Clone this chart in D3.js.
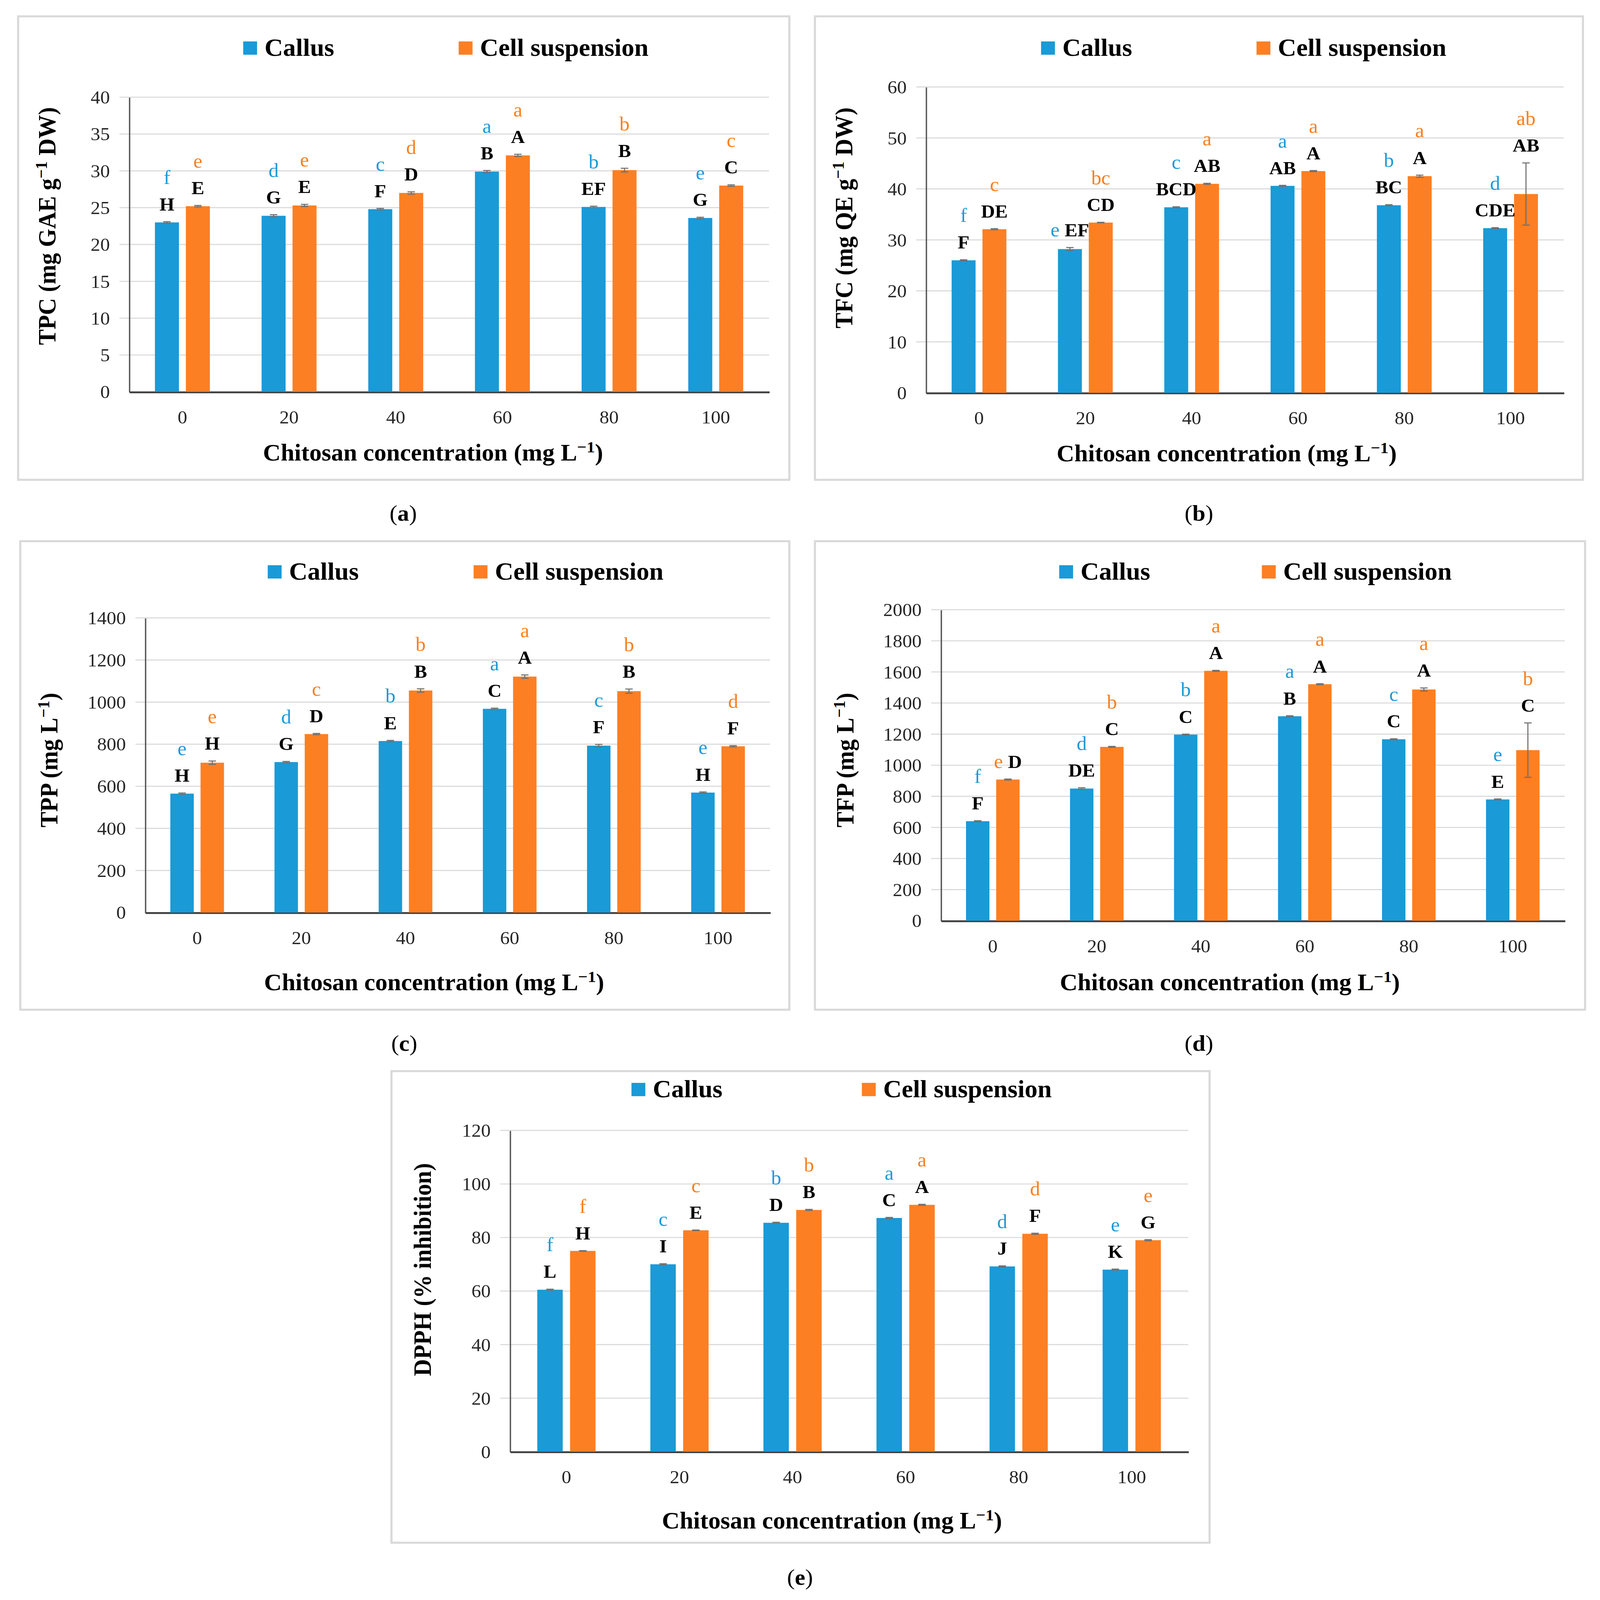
<!DOCTYPE html>
<html>
<head>
<meta charset="utf-8">
<script src="https://cdn.jsdelivr.net/npm/d3@7"></script>
<style>
  html, body { margin: 0; padding: 0; background: #fff; overflow: hidden; }
  svg { display: block; width: 100vw; height: 100vh; }
  text { font-family: "Liberation Serif", "DejaVu Serif", serif; }
</style>
</head>
<body>
<script>
// chitosan treatments, shared by every panel
const concentrations = [0, 20, 40, 60, 80, 100];
const seriesNames = ["Callus", "Cell suspension"];

// (a) TPC
const tpcCallus = [23.0, 23.9, 24.8, 29.9, 25.1, 23.6];
const tpcCell = [25.2, 25.3, 27.0, 32.1, 30.1, 28.0];
const tpcCallusErr = [0.1, 0.15, 0.1, 0.15, 0.1, 0.1];
const tpcCellErr = [0.1, 0.15, 0.15, 0.15, 0.25, 0.1];
const tpcCallusCap = ["H", "G", "F", "B", "EF", "G"];
const tpcCallusLow = ["f", "d", "c", "a", "b", "e"];
const tpcCellCap = ["E", "E", "D", "A", "B", "C"];
const tpcCellLow = ["e", "e", "d", "a", "b", "c"];
const tpcTicks = [0, 5, 10, 15, 20, 25, 30, 35, 40];

// (b) TFC
const tfcCallus = [26.0, 28.2, 36.4, 40.6, 36.8, 32.3];
const tfcCell = [32.1, 33.4, 41.0, 43.5, 42.5, 39.0];
const tfcCallusErr = [0.1, 0.3, 0.1, 0.1, 0.1, 0.1];
const tfcCellErr = [0.1, 0.05, 0.1, 0.1, 0.2, 6.1];
const tfcCallusCap = ["F", "EF", "BCD", "AB", "BC", "CDE"];
const tfcCallusLow = ["f", "e", "c", "a", "b", "d"];
const tfcCellCap = ["DE", "CD", "AB", "A", "A", "AB"];
const tfcCellLow = ["c", "bc", "a", "a", "a", "ab"];
const tfcTicks = [0, 10, 20, 30, 40, 50, 60];

// (c) TPP
const tppCallus = [565, 715, 815, 968, 793, 570];
const tppCell = [712, 848, 1055, 1121, 1052, 790];
const tppCallusErr = [3, 3, 3, 3, 6, 3];
const tppCellErr = [8, 3, 8, 8, 10, 3];
const tppCallusCap = ["H", "G", "E", "C", "F", "H"];
const tppCallusLow = ["e", "d", "b", "a", "c", "e"];
const tppCellCap = ["H", "D", "B", "A", "B", "F"];
const tppCellLow = ["e", "c", "b", "a", "b", "d"];
const tppTicks = [0, 200, 400, 600, 800, 1000, 1200, 1400];

// (d) TFP
const tfpCallus = [640, 850, 1197, 1315, 1167, 780];
const tfpCell = [908, 1118, 1607, 1521, 1487, 1097];
const tfpCallusErr = [3, 5, 3, 3, 3, 3];
const tfpCellErr = [3, 3, 3, 3, 10, 175];
const tfpCallusCap = ["F", "DE", "C", "B", "C", "E"];
const tfpCallusLow = ["f", "d", "b", "a", "c", "e"];
const tfpCellCap = ["D", "C", "A", "A", "A", "C"];
const tfpCellLow = ["e", "b", "a", "a", "a", "b"];
const tfpTicks = [0, 200, 400, 600, 800, 1000, 1200, 1400, 1600, 1800, 2000];

// (e) DPPH
const dpphCallus = [60.5, 70.0, 85.5, 87.3, 69.2, 68.0];
const dpphCell = [75.0, 82.7, 90.3, 92.2, 81.4, 79.0];
const dpphCallusErr = [0.2, 0.2, 0.2, 0.2, 0.2, 0.2];
const dpphCellErr = [0.1, 0.1, 0.2, 0.2, 0.2, 0.2];
const dpphCallusCap = ["L", "I", "D", "C", "J", "K"];
const dpphCallusLow = ["f", "c", "b", "a", "d", "e"];
const dpphCellCap = ["H", "E", "B", "A", "F", "G"];
const dpphCellLow = ["f", "c", "b", "a", "d", "e"];
const dpphTicks = [0, 20, 40, 60, 80, 100, 120];

const blue = "#1a9ad6";
const orange = "#fd7f23";
const blueText = "#1d9ad8";
const orangeText = "#f9801f";

// page drawn in a 1500-wide coordinate space, stretched to the window
let svg = d3.select("body").append("svg")
  .attr("viewBox", "0 0 1500 1564")
  .attr("preserveAspectRatio", "none");

function titleWithSup(sel, before, after) {
  sel.append("tspan").text(before);
  sel.append("tspan").attr("dy", -8).attr("font-size", "0.68em").text("\u22121");
  sel.append("tspan").attr("dy", 8).text(after);
}

function drawPanel(p) {
  let g = svg.append("g");

  // chart frame
  g.append("rect")
    .attr("x", p.frame[0]).attr("y", p.frame[1])
    .attr("width", p.frame[2] - p.frame[0]).attr("height", p.frame[3] - p.frame[1])
    .attr("fill", "#fff").attr("stroke", "#d9d9d9").attr("stroke-width", 2);

  let x = d3.scaleBand().domain(concentrations).range([p.x0, p.x1]);
  let bw = x.bandwidth();
  let xs = d3.scaleBand().domain(seriesNames).range([0, bw])
    .paddingInner(0.224).paddingOuter(0.836);
  let y = d3.scaleLinear().domain([0, d3.max(p.ticks)]).range([p.y1, p.y0]);

  // gridlines (they stick out left of the axis like Excel tick marks)
  g.append("g").selectAll("line").data(p.ticks.slice(1)).join("line")
    .attr("x1", p.x0 - 9).attr("x2", p.x1)
    .attr("y1", d => y(d)).attr("y2", d => y(d))
    .attr("stroke", "#d9d9d9").attr("stroke-width", 1);

  // y axis
  let ya = g.append("g").attr("transform", "translate(" + p.x0 + ",0)")
    .call(d3.axisLeft(y).tickValues(p.ticks).tickFormat(d3.format("d")).tickSize(0).tickPadding(18));
  ya.select(".domain").attr("stroke", "#595959").attr("stroke-width", 1.3);
  ya.selectAll("text").attr("font-size", 18).attr("fill", "#262626")
    .attr("font-family", "Liberation Serif");

  // x axis
  let xa = g.append("g").attr("transform", "translate(0," + p.y1 + ")")
    .call(d3.axisBottom(x).tickSize(0).tickPadding(18));
  xa.select(".domain").attr("stroke", "#404040").attr("stroke-width", 1.8);
  xa.selectAll("text").attr("font-size", 18).attr("fill", "#262626")
    .attr("font-family", "Liberation Serif");

  let rows = concentrations.map((c, i) => [
    {c: c, s: seriesNames[0], v: p.callus[i], e: p.callusErr[i], cap: p.callusCap[i], low: p.callusLow[i], side: p.side[0] === i},
    {c: c, s: seriesNames[1], v: p.cell[i], e: p.cellErr[i], cap: p.cellCap[i], low: p.cellLow[i], side: p.side[1] === i}
  ]).flat();

  let cx = d => x(d.c) + xs(d.s) + xs.bandwidth() / 2;

  g.append("g").selectAll("rect").data(rows).join("rect")
    .attr("x", d => x(d.c) + xs(d.s))
    .attr("y", d => y(d.v))
    .attr("width", xs.bandwidth())
    .attr("height", d => y(0) - y(d.v))
    .attr("fill", d => d.s === seriesNames[0] ? blue : orange);

  // error bars
  let eb = g.append("g").attr("stroke", "#6f6f6f").attr("stroke-width", 1);
  eb.selectAll(".v").data(rows).join("line")
    .attr("x1", cx).attr("x2", cx)
    .attr("y1", d => y(d.v - d.e)).attr("y2", d => y(d.v + d.e));
  eb.selectAll(".t").data(rows).join("line")
    .attr("x1", d => cx(d) - 3.5).attr("x2", d => cx(d) + 3.5)
    .attr("y1", d => y(d.v + d.e)).attr("y2", d => y(d.v + d.e));
  eb.selectAll(".b").data(rows).join("line")
    .attr("x1", d => cx(d) - 3.5).attr("x2", d => cx(d) + 3.5)
    .attr("y1", d => y(d.v - d.e)).attr("y2", d => y(d.v - d.e));

  // significance letters
  rows.forEach(d => {
    let base = y(d.v + d.e) - 11;
    let col = d.s === seriesNames[0] ? blueText : orangeText;
    if (d.side) {
      let t = g.append("text").attr("x", cx(d)).attr("y", base)
        .attr("text-anchor", "middle").attr("font-size", 18);
      t.append("tspan").attr("fill", col).attr("font-size", 19).text(d.low + " ");
      t.append("tspan").attr("font-weight", "bold").attr("fill", "#000").text(d.cap);
    } else {
      g.append("text").attr("x", cx(d)).attr("y", base)
        .attr("text-anchor", "middle").attr("font-size", 18)
        .attr("font-weight", "bold").attr("fill", "#000").text(d.cap);
      g.append("text").attr("x", cx(d)).attr("y", base - 26)
        .attr("text-anchor", "middle").attr("font-size", 19)
        .attr("fill", col).text(d.low);
    }
  });

  // legend
  [[p.legX[0], blue, seriesNames[0]], [p.legX[1], orange, seriesNames[1]]].forEach(l => {
    g.append("rect").attr("x", l[0]).attr("y", p.legY - 6.5)
      .attr("width", 13).attr("height", 13).attr("fill", l[1]);
    g.append("text").attr("x", l[0] + 20).attr("y", p.legY + 7.5)
      .attr("font-size", 24).attr("font-weight", "bold").attr("fill", "#000").text(l[2]);
  });

  // axis titles
  let yt = g.append("text")
    .attr("transform", "translate(" + (p.yTitle[0] + 7) + "," + p.yTitle[1] + ") rotate(-90)")
    .attr("text-anchor", "middle").attr("font-size", 23).attr("font-weight", "bold");
  if (p.yLabel.length > 1) titleWithSup(yt, p.yLabel[0], p.yLabel[1]);
  else yt.text(p.yLabel[0]);

  let xt = g.append("text").attr("x", p.xTitle[0]).attr("y", p.xTitle[1] + 7)
    .attr("text-anchor", "middle").attr("font-size", 23).attr("font-weight", "bold");
  titleWithSup(xt, "Chitosan concentration (mg L", ")");

  // caption
  let cap = g.append("text").attr("x", p.caption[0]).attr("y", p.caption[1] + 7)
    .attr("text-anchor", "middle").attr("font-size", 22);
  cap.append("tspan").text("(");
  cap.append("tspan").attr("font-weight", "bold").text(p.caption[2]);
  cap.append("tspan").text(")");
}

drawPanel({
  frame: [17, 16, 740, 469], x0: 121, x1: 721, y0: 95, y1: 383, ticks: tpcTicks,
  callus: tpcCallus, cell: tpcCell, callusErr: tpcCallusErr, cellErr: tpcCellErr,
  callusCap: tpcCallusCap, callusLow: tpcCallusLow, cellCap: tpcCellCap, cellLow: tpcCellLow,
  side: [-1, -1], legY: 47, legX: [228, 430], yTitle: [45, 221], xTitle: [406, 443],
  yLabel: ["TPC (mg GAE g", " DW)"], caption: [378, 502, "a"]
});

drawPanel({
  frame: [764, 16, 1484, 469], x0: 868, x1: 1466, y0: 85, y1: 384, ticks: tfcTicks,
  callus: tfcCallus, cell: tfcCell, callusErr: tfcCallusErr, cellErr: tfcCellErr,
  callusCap: tfcCallusCap, callusLow: tfcCallusLow, cellCap: tfcCellCap, cellLow: tfcCellLow,
  side: [1, -1], legY: 47, legX: [976, 1178], yTitle: [792, 213], xTitle: [1150, 444],
  yLabel: ["TFC (mg QE g", " DW)"], caption: [1124, 502, "b"]
});

drawPanel({
  frame: [19, 529, 740, 987], x0: 136, x1: 722, y0: 604, y1: 892, ticks: tppTicks,
  callus: tppCallus, cell: tppCell, callusErr: tppCallusErr, cellErr: tppCellErr,
  callusCap: tppCallusCap, callusLow: tppCallusLow, cellCap: tppCellCap, cellLow: tppCellLow,
  side: [-1, -1], legY: 559, legX: [251, 444], yTitle: [47, 743], xTitle: [407, 961],
  yLabel: ["TPP (mg L", ")"], caption: [379, 1020, "c"]
});

drawPanel({
  frame: [764, 529, 1486, 987], x0: 882, x1: 1467, y0: 596, y1: 900, ticks: tfpTicks,
  callus: tfpCallus, cell: tfpCell, callusErr: tfpCallusErr, cellErr: tfpCellErr,
  callusCap: tfpCallusCap, callusLow: tfpCallusLow, cellCap: tfpCellCap, cellLow: tfpCellLow,
  side: [-1, 0], legY: 559, legX: [993, 1183], yTitle: [793, 743], xTitle: [1153, 961],
  yLabel: ["TFP (mg L", ")"], caption: [1124, 1020, "d"]
});

drawPanel({
  frame: [367, 1047, 1134, 1508], x0: 478, x1: 1114, y0: 1105, y1: 1419, ticks: dpphTicks,
  callus: dpphCallus, cell: dpphCell, callusErr: dpphCallusErr, cellErr: dpphCellErr,
  callusCap: dpphCallusCap, callusLow: dpphCallusLow, cellCap: dpphCellCap, cellLow: dpphCellLow,
  side: [-1, -1], legY: 1065, legX: [592, 808], yTitle: [397, 1241], xTitle: [780, 1487],
  yLabel: ["DPPH (% inhibition)"], caption: [750, 1542, "e"]
});
</script>
</body>
</html>
